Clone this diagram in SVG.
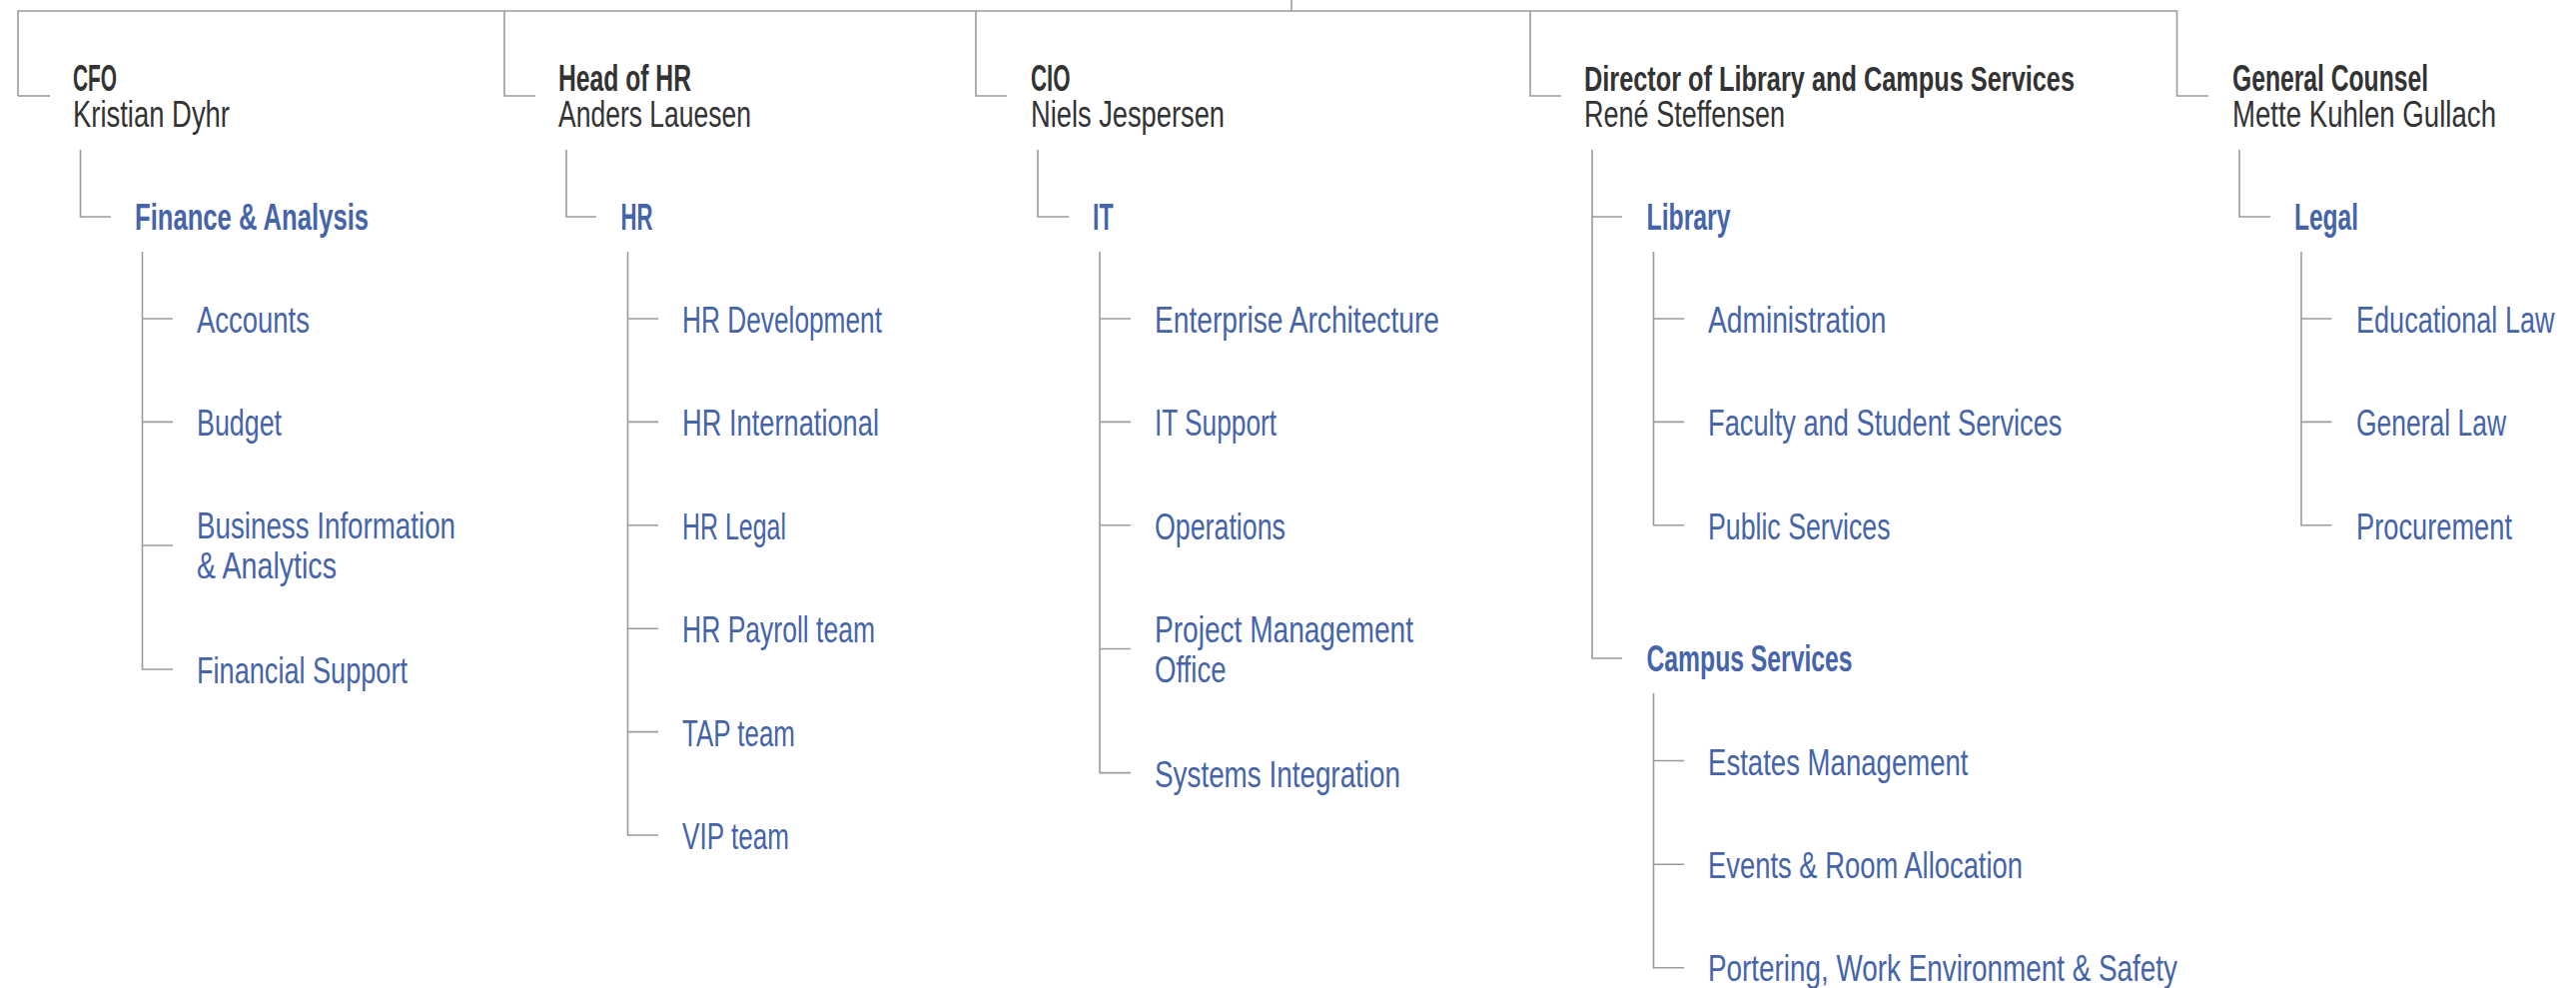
<svg xmlns="http://www.w3.org/2000/svg" width="2579" height="989" viewBox="0 0 2579 989">
<style>
.ln{fill:none;stroke:#9b9b9b;stroke-width:1.6}
text{font-family:"Liberation Sans",Arial,sans-serif}
.t{font-size:36px;font-weight:bold;fill:#333333}
.n{font-size:36px;fill:#333333}
.u{font-size:36px;font-weight:bold;fill:#4564aa}
.c{font-size:37px;fill:#4564aa}
</style>
<rect width="2579" height="989" fill="#ffffff"/>
<g id="connectors" class="ln">
<path d="M1293,0 V11"/>
<path d="M18,96 V11 H2179.5 V96 H2211"/>
<path d="M18,96 H50"/>
<path d="M505,11 V96 H536"/>
<path d="M977,11 V96 H1008"/>
<path d="M1532,11 V96 H1563"/>
<path d="M80.5,150 V217 H111"/>
<path d="M142.5,252 V670 H173 M142.5,319 H173 M142.5,422.4 H173 M142.5,546 H173"/>
<path d="M567,150 V217 H597"/>
<path d="M628.5,252 V836 H659 M628.5,319 H659 M628.5,422.4 H659 M628.5,525.8 H659 M628.5,629.2 H659 M628.5,732.6 H659"/>
<path d="M1039,150 V217 H1070"/>
<path d="M1101,252 V773.6 H1132 M1101,319 H1132 M1101,422.4 H1132 M1101,525.8 H1132 M1101,649.5 H1132"/>
<path d="M1594,150 V659 H1624 M1594,217 H1624"/>
<path d="M1655.5,252 V525.8 H1686 M1655.5,319 H1686 M1655.5,422.4 H1686"/>
<path d="M1655.5,694 V968.8 H1686 M1655.5,761.5 H1686 M1655.5,865.2 H1686"/>
<path d="M2242,150 V217 H2273"/>
<path d="M2304,252 V525.8 H2334.5 M2304,319 H2334.5 M2304,422.4 H2334.5"/>
</g>
<g id="cfo">
<text class="t" x="73" y="91" textLength="44" lengthAdjust="spacingAndGlyphs">CFO</text>
<text class="n" x="73" y="127" textLength="157" lengthAdjust="spacingAndGlyphs">Kristian Dyhr</text>
</g>
<g id="finance">
<text class="u" x="135" y="230" textLength="234" lengthAdjust="spacingAndGlyphs">Finance &amp; Analysis</text>
</g>
<g id="accounts"><text class="c" x="197" y="333" textLength="113" lengthAdjust="spacingAndGlyphs">Accounts</text></g>
<g id="budget"><text class="c" x="197" y="436.4" textLength="85" lengthAdjust="spacingAndGlyphs">Budget</text></g>
<g id="bia"><text class="c" x="197" y="539" textLength="259" lengthAdjust="spacingAndGlyphs">Business Information</text><text class="c" x="197" y="579" textLength="140" lengthAdjust="spacingAndGlyphs">&amp; Analytics</text></g>
<g id="finsupport"><text class="c" x="197" y="684" textLength="211" lengthAdjust="spacingAndGlyphs">Financial Support</text></g>

<g id="headhr">
<text class="t" x="559" y="91" textLength="133" lengthAdjust="spacingAndGlyphs">Head of HR</text>
<text class="n" x="559" y="127" textLength="193" lengthAdjust="spacingAndGlyphs">Anders Lauesen</text>
</g>
<g id="hr"><text class="u" x="621.5" y="230" textLength="32" lengthAdjust="spacingAndGlyphs">HR</text></g>
<g id="hrdev"><text class="c" x="683" y="333" textLength="200" lengthAdjust="spacingAndGlyphs">HR Development</text></g>
<g id="hrint"><text class="c" x="683" y="436.4" textLength="197" lengthAdjust="spacingAndGlyphs">HR International</text></g>
<g id="hrlegal"><text class="c" x="683" y="539.8" textLength="104" lengthAdjust="spacingAndGlyphs">HR Legal</text></g>
<g id="hrpay"><text class="c" x="683" y="643.2" textLength="193" lengthAdjust="spacingAndGlyphs">HR Payroll team</text></g>
<g id="tap"><text class="c" x="683" y="746.6" textLength="113" lengthAdjust="spacingAndGlyphs">TAP team</text></g>
<g id="vip"><text class="c" x="683" y="850" textLength="107" lengthAdjust="spacingAndGlyphs">VIP team</text></g>

<g id="cio">
<text class="t" x="1032" y="91" textLength="39.5" lengthAdjust="spacingAndGlyphs">CIO</text>
<text class="n" x="1032" y="127" textLength="194" lengthAdjust="spacingAndGlyphs">Niels Jespersen</text>
</g>
<g id="it"><text class="u" x="1094" y="230" textLength="20.5" lengthAdjust="spacingAndGlyphs">IT</text></g>
<g id="ea"><text class="c" x="1156" y="333" textLength="285" lengthAdjust="spacingAndGlyphs">Enterprise Architecture</text></g>
<g id="itsupport"><text class="c" x="1156" y="436.4" textLength="122" lengthAdjust="spacingAndGlyphs">IT Support</text></g>
<g id="ops"><text class="c" x="1156" y="539.8" textLength="131" lengthAdjust="spacingAndGlyphs">Operations</text></g>
<g id="pmo"><text class="c" x="1156" y="642.5" textLength="259" lengthAdjust="spacingAndGlyphs">Project Management</text><text class="c" x="1156" y="682.5" textLength="71.5" lengthAdjust="spacingAndGlyphs">Office</text></g>
<g id="si"><text class="c" x="1156" y="787.6" textLength="246" lengthAdjust="spacingAndGlyphs">Systems Integration</text></g>

<g id="director">
<text class="t" transform="translate(1586 91) scale(0.65 1)" x="0" y="0" textLength="755.4" lengthAdjust="spacingAndGlyphs">Director of Library and Campus Services</text>
<text class="n" x="1586" y="127" textLength="201" lengthAdjust="spacingAndGlyphs">René Steffensen</text>
</g>
<g id="library"><text class="u" x="1648.5" y="230" textLength="84" lengthAdjust="spacingAndGlyphs">Library</text></g>
<g id="admin"><text class="c" x="1710" y="333" textLength="178.5" lengthAdjust="spacingAndGlyphs">Administration</text></g>
<g id="fss"><text class="c" x="1710" y="436.4" textLength="354.5" lengthAdjust="spacingAndGlyphs">Faculty and Student Services</text></g>
<g id="pubserv"><text class="c" x="1710" y="539.8" textLength="182.5" lengthAdjust="spacingAndGlyphs">Public Services</text></g>
<g id="campus"><text class="u" x="1648.5" y="672" textLength="206" lengthAdjust="spacingAndGlyphs">Campus Services</text></g>
<g id="estates"><text class="c" x="1710" y="775.5" textLength="260.5" lengthAdjust="spacingAndGlyphs">Estates Management</text></g>
<g id="events"><text class="c" x="1710" y="879" textLength="315" lengthAdjust="spacingAndGlyphs">Events &amp; Room Allocation</text></g>
<g id="portering"><text class="c" x="1710" y="982.3" textLength="470" lengthAdjust="spacingAndGlyphs">Portering, Work Environment &amp; Safety</text></g>

<g id="gc">
<text class="t" x="2235" y="91" textLength="196" lengthAdjust="spacingAndGlyphs">General Counsel</text>
<text class="n" x="2235" y="127" textLength="264" lengthAdjust="spacingAndGlyphs">Mette Kuhlen Gullach</text>
</g>
<g id="legal"><text class="u" x="2297" y="230" textLength="64" lengthAdjust="spacingAndGlyphs">Legal</text></g>
<g id="edulaw"><text class="c" transform="translate(2359 333) scale(0.72 1)" x="0" y="0" textLength="275.7" lengthAdjust="spacingAndGlyphs">Educational Law</text></g>
<g id="genlaw"><text class="c" x="2359" y="436.4" textLength="150" lengthAdjust="spacingAndGlyphs">General Law</text></g>
<g id="procure"><text class="c" x="2359" y="539.8" textLength="156" lengthAdjust="spacingAndGlyphs">Procurement</text></g>
</svg>
